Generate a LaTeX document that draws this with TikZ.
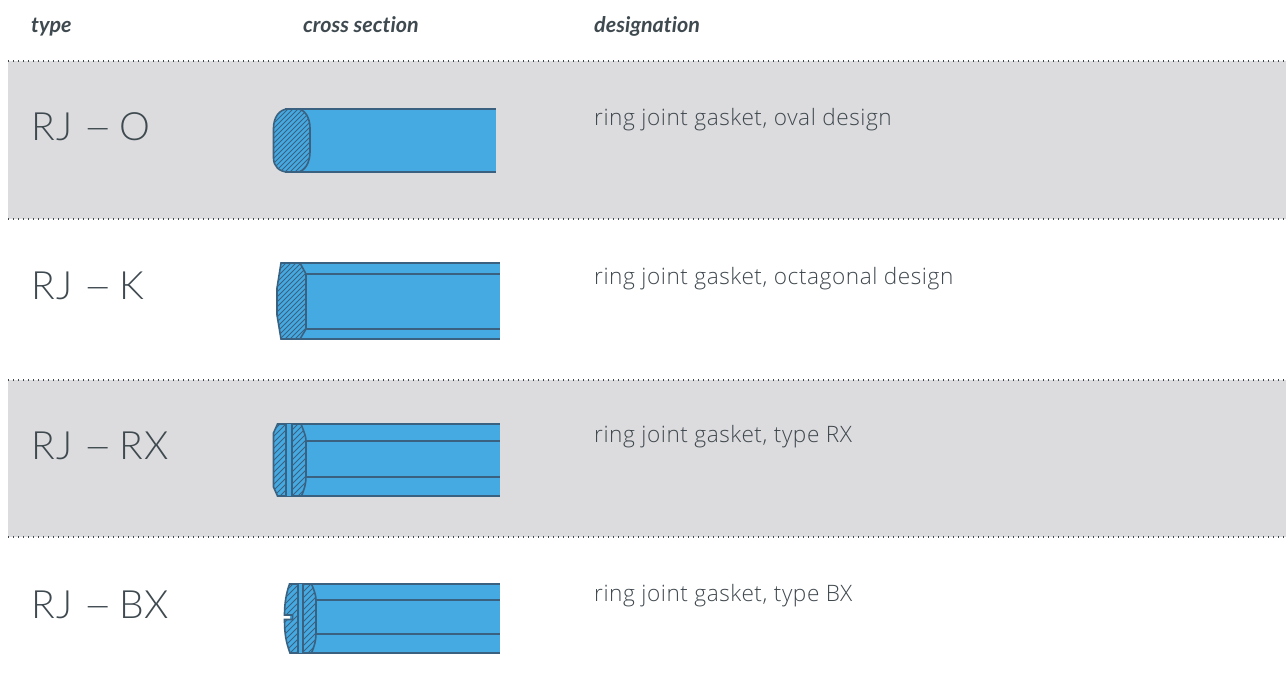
\documentclass[tikz,border=0pt]{standalone}
\usepackage{fontspec}
\setmainfont{Open Sans Light}[LetterSpace=2.5]
\newfontfamily\headf{Lato}[ItalicFont=* Bold Italic,Ligatures=NoCommon]
\newfontfamily\typef{Lato Light}[LetterSpace=4]
\definecolor{band}{HTML}{DCDCDE}
\definecolor{gblue}{HTML}{45A9E2}
\definecolor{gline}{HTML}{3A6280}
\definecolor{gtext}{HTML}{3F4A50}
\definecolor{dtext}{HTML}{3F484E}
\newcommand{\longdash}{\hspace{11pt}\scalebox{1.3}[1]{–}\hspace{6pt}}
\tikzset{
  hdr/.style={anchor=base west,inner sep=0pt,text=gtext,font=\headf\itshape\fontsize{21.5}{23}\selectfont},
  typ/.style={anchor=base west,inner sep=0pt,text=gtext,font=\typef\fontsize{39}{41}\selectfont},
  des/.style={anchor=base west,inner sep=0pt,text=dtext,font=\fontsize{22.6}{25}\selectfont},
  dots/.style={line width=1.4pt,dash pattern=on 1.4pt off 3.6pt,color=gtext},
  edge/.style={line width=1.6pt,color=gline},
  hatch/.style={line width=1pt,color=gline}
}
\begin{document}
\begin{tikzpicture}[x=1pt,y=-1pt]
\useasboundingbox (0,0) rectangle (1286,693);
\fill[white] (0,0) rectangle (1286,693);
\fill[band] (8,61) rectangle (1286,219);
\fill[band] (8,380) rectangle (1286,537);
\foreach \y in {61,219,380,537}{\draw[dots] (8,\y) -- (1286,\y);}
\node[hdr] (h1) at (31,32.5) {\itshape type};
\node[hdr] (h2) at (303,32.5) {\itshape cross section};
\node[hdr] (h3) at (594,32.5) {\itshape designation};
\node[typ] (t1) at (31,140) {RJ\longdash{}O};
\node[typ] (t2) at (31,299) {RJ\longdash{}K};
\node[typ] (t3) at (31,459) {RJ\longdash{}RX};
\node[typ] (t4) at (31,618) {RJ\longdash{}BX};
\node[des] (d1) at (594,125.5) {ring joint gasket, oval design};
\node[des] (d2) at (594,284.5) {ring joint gasket, octagonal design};
\node[des] (d3) at (594,442.5) {ring joint gasket, type RX};
\node[des] (d4) at (594,601.5) {ring joint gasket, type BX};
% RJ-O
\fill[gblue] (285,109) rectangle (496,172);
\draw[edge] (285,109) -- (496,109) (285,172) -- (496,172);
\def\sec{(288,109) .. controls (279,109) and (273.5,118) .. (273.5,128) -- (273.5,158) .. controls (273.5,166) and (279,172) .. (288,172) -- (297,172) .. controls (305,172) and (310,162) .. (310,152) -- (310,128) .. controls (310,118) and (305,109) .. (297,109) -- cycle}
\fill[gblue] \sec;
\begin{scope}\clip \sec; \foreach \k in {170,175,...,320}{\draw[hatch] (\k,172) -- ++(100,-100);}\end{scope}
\draw[edge] \sec;
% RJ-K
\fill[gblue] (281,263) rectangle (500,339);
\draw[edge] (300,263) -- (500,263) (306,274) -- (500,274) (306,329) -- (500,329) (300,339) -- (500,339);
\def\sec{(281,263) -- (300,263) -- (306,274) -- (306,329) -- (300,339) -- (281,339) -- (277,315) -- (277,288) -- cycle}
\fill[gblue] \sec;
\begin{scope}\clip \sec; \foreach \k in {200,205,...,320}{\draw[hatch] (\k,339) -- ++(120,-120);}\end{scope}
\draw[edge] \sec;
% RJ-RX
\fill[gblue] (277,424) rectangle (500,496);
\draw[edge] (300,424) -- (500,424) (306,441) -- (500,441) (306,477) -- (500,477) (300,496) -- (500,496);
\def\sec{(277.5,424) -- (301,424) .. controls (304,432) and (306,436) .. (306,441) -- (306,477) .. controls (306,484) and (304,490) .. (301.5,496) -- (277.5,496) -- (273.5,487) -- (273.5,433) -- cycle}
\fill[gblue] \sec;
\begin{scope}\clip \sec; \foreach \k in {190,196,...,320}{\draw[hatch] (\k,496) -- ++(120,-120);}\end{scope}
\draw[edge] \sec;
\fill[gblue] (286,424) rectangle (291.7,496);
\draw[edge] (286,424) -- (286,496) (291.7,424) -- (291.7,496);
% RJ-BX
\fill[gblue] (290,584) rectangle (500,653);
\draw[edge] (311,584) -- (500,584) (316,600) -- (500,600) (316,634) -- (500,634) (311,653) -- (500,653);
\def\sec{(289.5,584) -- (311.5,584) .. controls (314,590) and (316,595) .. (316,600) -- (316,634) .. controls (316,641) and (314,647) .. (311.5,653) -- (290,653) .. controls (286,642) and (284.5,634) .. (284.5,619.5) -- (292.5,619.5) -- (292.5,615) -- (284.5,615) .. controls (284.5,604) and (286,594) .. (289.5,584) -- cycle}
\fill[gblue] \sec;
\begin{scope}\clip \sec; \foreach \k in {200,206,...,330}{\draw[hatch] (\k,653) -- ++(120,-120);}\end{scope}
\draw[edge] \sec;
\fill[gblue] (297.7,584) rectangle (302.7,653);
\draw[edge] (297.7,584) -- (297.7,653) (302.7,584) -- (302.7,653);
\end{tikzpicture}
\end{document}
